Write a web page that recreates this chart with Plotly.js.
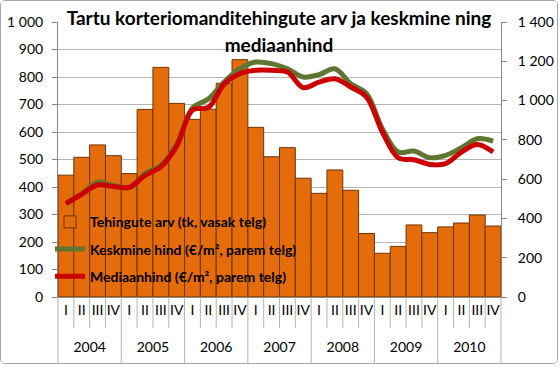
<!DOCTYPE html>
<html><head><meta charset="utf-8">
<script src="https://cdn.plot.ly/plotly-3.0.1.min.js"></script>
<style>
html,body{margin:0;padding:0;background:#fff;}
#chart{width:556px;height:362px;border:1px solid #a6a6a6;border-radius:5px;overflow:hidden;}
</style></head><body><div id="chart"></div>
<script>
const years = ['2004','2005','2006','2007','2008','2009','2010'];
const quarters = ['I','II','III','IV'];
const transactions = [443, 508, 553, 514, 449, 682, 835, 704, 646, 683, 777, 863, 617, 510, 543, 432, 377, 462, 388, 231, 159, 184, 262, 234, 255, 269, 298, 258];
const averagePrice = [477, 525, 585, 568, 558, 629, 670, 778, 962, 1008, 1094, 1162, 1196, 1188, 1162, 1120, 1132, 1162, 1086, 1035, 857, 738, 743, 709, 721, 760, 806, 794];
const medianPrice = [475, 523, 570, 563, 558, 619, 662, 768, 952, 965, 1083, 1137, 1154, 1154, 1145, 1066, 1094, 1111, 1069, 1018, 840, 709, 699, 675, 679, 738, 777, 738];
const titleLines = ['Tartu korteriomanditehingute arv ja keskmine ning', 'mediaanhind'];

const xYear = [], xQuarter = [];
// the empty second line only adds room between the quarter row and the year row
years.forEach(y => quarters.forEach(q => { xYear.push(y); xQuarter.push(q + '<br>&nbsp;'); }));
const x = [xYear, xQuarter];
const n = xYear.length;

const FONT = 'Lato, "Open Sans", sans-serif';
const sepColor = '#b4b4b4';
const shapes = [];
for (let i = 0; i <= n; i++) {
  const isYear = (i % quarters.length === 0);
  shapes.push({type:'line', xref:'paper', yref:'paper', x0:i/n, x1:i/n, y0:0, y1: isYear ? -0.24 : -0.113,
    line:{color:sepColor, width:1}});
}
// white backing of the title box
shapes.push({type:'rect', xref:'paper', yref:'paper', x0:0.02, x1:0.982, y0:0.872, y1:1.07,
  fillcolor:'#ffffff', line:{width:0}, layer:'between'});

const traces = [
  {type:'bar', x:x, y:transactions, name:'Tehingute arv (tk, vasak telg)', legendgroup:'a',
   marker:{color:'#E46C0A', line:{color:'#6e3507', width:1}}, yaxis:'y'},
  {type:'scatter', mode:'lines', x:x, y:averagePrice, name:'Keskmine hind (€/m², parem telg)', legendgroup:'b',
   line:{color:'#5f7530', width:5, shape:'spline', smoothing:1}, yaxis:'y2'},
  {type:'scatter', mode:'lines', x:x, y:medianPrice, name:'Mediaanhind (€/m², parem telg)', legendgroup:'c',
   line:{color:'#cc0000', width:5, shape:'spline', smoothing:1}, yaxis:'y2'}
];

const tickFont = {family:FONT, size:14, color:'#000'};
const layout = {
  width:556, height:362,
  margin:{l:57, r:56, t:21, b:66},
  paper_bgcolor:'#fff', plot_bgcolor:'#fff',
  separators:', ',
  bargap:0,
  showlegend:true,
  font:{family:FONT, color:'#000'},
  title:{
    text: titleLines.map(t => '<span style="font-size:19px">' + t + '</span>').join('<br>'),
    font:{family:FONT, size:21, weight:'bold', color:'#000'},
    x:0.5, xanchor:'center', xref:'container',
    y:0.935, yanchor:'top', yref:'container'
  },
  xaxis:{type:'multicategory', showdividers:false, showgrid:false, zeroline:false,
    showline:true, linecolor:'#868686', linewidth:1, tickangle:0, dtick:1,
    ticks:'outside', ticklen:14, tickcolor:'rgba(0,0,0,0)',
    tickfont:{family:FONT, size:14, color:'#000'}},
  yaxis:{range:[0,1000], dtick:100, tickformat:',d', showgrid:true, gridcolor:'#b4b4b4', gridwidth:1,
    zeroline:false, showline:true, linecolor:'#868686', ticks:'outside', ticklen:5, tickcolor:'#868686',
    ticklabelstandoff:6, tickfont:tickFont, fixedrange:true},
  yaxis2:{range:[0,1400], dtick:200, tickformat:',d', overlaying:'y', side:'right', showgrid:false,
    zeroline:false, showline:true, linecolor:'#868686', ticks:'outside', ticklen:5, tickcolor:'#868686',
    ticklabelstandoff:8, tickfont:tickFont, fixedrange:true},
  legend:{x:-0.018, xanchor:'left', y:0.33, yanchor:'top', bgcolor:'rgba(0,0,0,0)', borderwidth:0,
    traceorder:'grouped', tracegroupgap:6,
    font:{family:FONT, size:14, weight:'bold', color:'#000'}},
  shapes:shapes
};
Plotly.newPlot('chart', traces, layout, {displayModeBar:false, staticPlot:true});
</script></body></html>
